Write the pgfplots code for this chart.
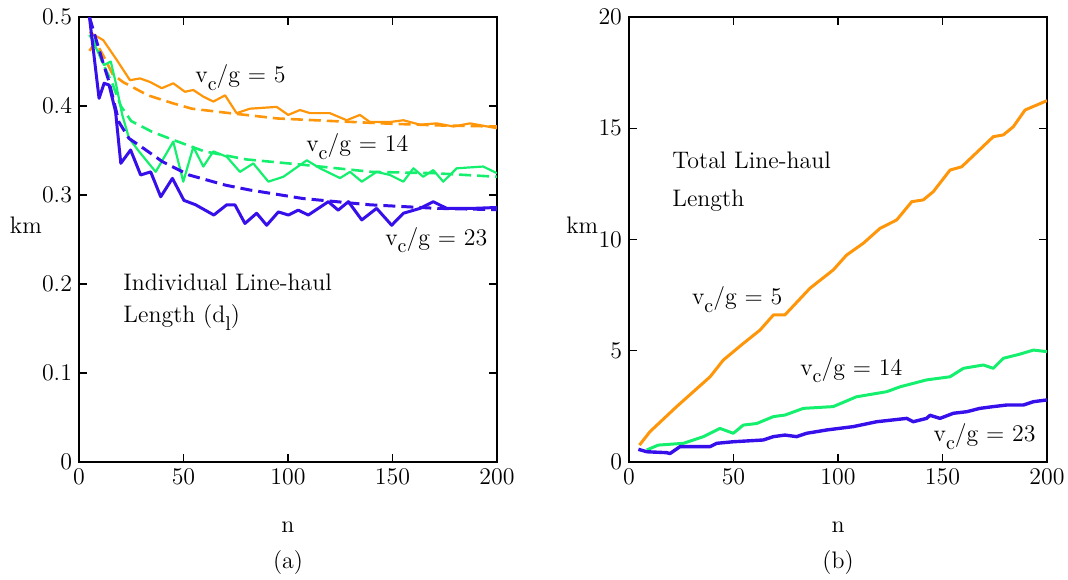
\documentclass[border=0pt]{standalone}
\usepackage{pgfplots}
\pgfplotsset{compat=1.18}
\definecolor{orng}{RGB}{255,150,10}
\definecolor{grn}{RGB}{20,240,110}
\definecolor{blu}{RGB}{55,15,235}
\pgfplotsset{
  panel/.style={
    scale only axis, width=209bp, height=222.5bp,
    xmin=0, xmax=200, xtick={0,50,...,200},
    tick align=inside, major tick length=4bp,
    axis line style={line width=0.8pt}, tick style={line width=0.6pt,black},
    tick label style={font=\fontsize{12}{14}\selectfont},
    clip mode=individual,
  },
  solid line/.style={line width=1.1pt, line join=round},
  dash line/.style={line width=1.3pt, dash pattern=on 6bp off 3bp},
}
\newcommand{\lbl}{\fontsize{12}{14}\selectfont}
\newcommand{\sub}[1]{\raisebox{-0.75ex}{\fontsize{10}{10}\selectfont #1}}

\begin{document}
\begin{tikzpicture}
\path[use as bounding box] (-39.5bp,-59bp) rectangle (494.5bp,231bp);

% ---------- (a) individual line-haul length
\begin{axis}[panel, ymin=0, ymax=0.5, ytick={0,0.1,...,0.5},
    yticklabel style={/pgf/number format/fixed}]
  % v_c/g = 5
  \addplot[solid line, orng] coordinates {
    (5,0.483) (11.6,0.474) (18,0.452) (24.4,0.429) (29.2,0.431) (34,0.427)
    (39.6,0.420) (45.1,0.4255) (50.7,0.416) (54.7,0.418) (59.5,0.4105)
    (64.3,0.405) (69.9,0.412) (75.4,0.392) (81.8,0.397) (94.6,0.399)
    (100.1,0.390) (105.7,0.3955) (110.5,0.392) (120,0.392) (128.1,0.384)
    (134.4,0.390) (139.2,0.382) (148.8,0.382) (155.2,0.384) (163.2,0.379)
    (171.1,0.3805) (179.1,0.377) (187.1,0.3805) (200,0.375)};
  \addplot[dash line, orng] coordinates {
    (5,0.462) (8,0.472) (12,0.455) (16,0.436) (21,0.427) (33,0.412)
    (45,0.403) (54,0.397) (72,0.392) (95,0.386) (122,0.383) (150,0.380)
    (175,0.378) (200,0.377)};
  % v_c/g = 14
  \addplot[solid line, grn] coordinates {
    (5.6,0.478) (12,0.446) (15.2,0.450) (17.5,0.427) (20.7,0.390)
    (23.9,0.364) (28.7,0.349) (36.7,0.326) (45.1,0.360) (49.9,0.315)
    (54.7,0.354) (59.5,0.332) (64.3,0.349) (70.7,0.343) (77,0.326)
    (83.4,0.3355) (90.6,0.315) (97.8,0.3205) (109,0.339) (115.3,0.330)
    (124.9,0.319) (129.7,0.326) (135.3,0.315) (142.4,0.326) (148.8,0.3225)
    (155.2,0.315) (160,0.330) (164.7,0.3205) (169.5,0.328) (174.3,0.315)
    (180.7,0.330) (193.4,0.332) (200,0.3245)};
  \addplot[dash line, grn] coordinates {
    (5,0.480) (8,0.470) (11,0.450) (16,0.425) (20,0.400) (25,0.383)
    (35,0.371) (45,0.362) (60,0.349) (80,0.340) (107,0.334) (140,0.326)
    (170,0.3245) (200,0.3205)};
  % v_c/g = 23
  \addplot[solid line, blu, line width=1.5pt] coordinates {
    (5,0.500) (9.6,0.4086) (12,0.4255) (14.4,0.4236) (17.5,0.3936)
    (20,0.3356) (24.7,0.3506) (29.5,0.3225) (34.3,0.326) (39.1,0.298)
    (44.7,0.3187) (50.2,0.294) (55.8,0.289) (64.5,0.2775) (70.7,0.289)
    (74.6,0.289) (79.4,0.268) (85,0.2795) (89.8,0.266) (95.4,0.281)
    (100.2,0.2775) (104.9,0.283) (109.7,0.2775) (119.3,0.2925) (124,0.283)
    (128.9,0.2925) (135.3,0.272) (142.4,0.285) (149.6,0.266) (155.2,0.2795)
    (163.2,0.285) (169.5,0.2925) (175.9,0.285) (188.7,0.285) (200,0.286)};
  \addplot[dash line, blu, line width=1.5pt] coordinates {
    (5,0.500) (10.4,0.457) (14.4,0.427) (19.1,0.382) (23.9,0.3636)
    (28.7,0.356) (39.9,0.3375) (52.6,0.3225) (70.2,0.311) (81.8,0.3056)
    (107.3,0.296) (139.2,0.289) (171.1,0.285) (200,0.2835)};

  \node[anchor=base west, inner sep=0pt] at (axis cs:55.5,0.426) {\lbl v\sub{c}/g = 5};
  \node[anchor=base west, inner sep=0pt] at (axis cs:108.6,0.3487) {\lbl v\sub{c}/g = 14};
  \node[anchor=base west, inner sep=0pt] at (axis cs:146.4,0.2438) {\lbl v\sub{c}/g = 23};
  \node[anchor=base west, inner sep=0pt] at (axis cs:21.1,0.1925) {\lbl Individual Line-haul};
  \node[anchor=base west, inner sep=0pt] at (axis cs:21.1,0.1566) {\lbl Length (d\sub{l})};
  \node at (axis description cs:-0.127,0.533) {\lbl km};
  \node at (axis description cs:0.5,-0.146) {\lbl n};
  \node at (axis description cs:0.5,-0.227) {\lbl (a)};
\end{axis}

% ---------- (b) total line-haul length
\begin{axis}[panel, xshift=275bp, ymin=0, ymax=20, ytick={0,5,...,20}]
  \addplot[solid line, orng, line width=1.5pt] coordinates {
    (5,0.76) (10,1.36) (22.8,2.49) (38.8,3.83) (45.1,4.58) (54.7,5.33)
    (62.7,5.93) (69.1,6.61) (74.6,6.61) (86.6,7.81) (97.7,8.63)
    (104.1,9.30) (112.1,9.83) (120.1,10.50) (128.1,10.88) (135.3,11.70)
    (140.8,11.78) (145.6,12.15) (153.6,13.12) (159.2,13.27) (174.3,14.62)
    (179.1,14.70) (183.9,15.07) (189.5,15.82) (200,16.24)};
  \addplot[solid line, grn, line width=1.5pt] coordinates {
    (8.5,0.54) (14,0.76) (26,0.84) (35.6,1.14) (43.5,1.51) (49.9,1.29)
    (54.7,1.66) (61.1,1.73) (69.1,2.04) (74.6,2.11) (83.4,2.41) (97.7,2.49)
    (108.8,2.93) (123.3,3.16) (129.7,3.38) (142.4,3.69) (153.6,3.83)
    (160,4.21) (169.5,4.36) (174.3,4.21) (179.1,4.66) (187.1,4.85)
    (193.5,5.03) (200,4.96)};
  \addplot[solid line, blu, line width=1.7pt] coordinates {
    (4.5,0.57) (8.5,0.46) (18,0.42) (19.6,0.38) (24.4,0.69) (38.8,0.69)
    (42,0.84) (49.9,0.91) (64.3,0.99) (69.1,1.14) (74.6,1.21) (80.2,1.14)
    (85,1.29) (94.6,1.44) (107.3,1.59) (118.5,1.81) (132.9,1.96) (136,1.81)
    (142.4,1.96) (144,2.10) (148.8,1.96) (155.2,2.19) (161.6,2.26)
    (167.9,2.41) (174.3,2.49) (180.7,2.56) (188.7,2.56) (193.5,2.71)
    (200,2.79)};

  \node[anchor=base west, inner sep=0pt] at (axis cs:20.6,13.2) {\lbl Total Line-haul};
  \node[anchor=base west, inner sep=0pt] at (axis cs:20.6,11.47) {\lbl Length};
  \node[anchor=base west, inner sep=0pt] at (axis cs:30,7.06) {\lbl v\sub{c}/g = 5};
  \node[anchor=base west, inner sep=0pt] at (axis cs:81.8,3.91) {\lbl v\sub{c}/g = 14};
  \node[anchor=base west, inner sep=0pt] at (axis cs:145.6,0.91) {\lbl v\sub{c}/g = 23};
  \node at (axis description cs:-0.112,0.533) {\lbl km};
  \node at (axis description cs:0.5,-0.146) {\lbl n};
  \node at (axis description cs:0.5,-0.227) {\lbl (b)};
\end{axis}
\end{tikzpicture}
\end{document}
